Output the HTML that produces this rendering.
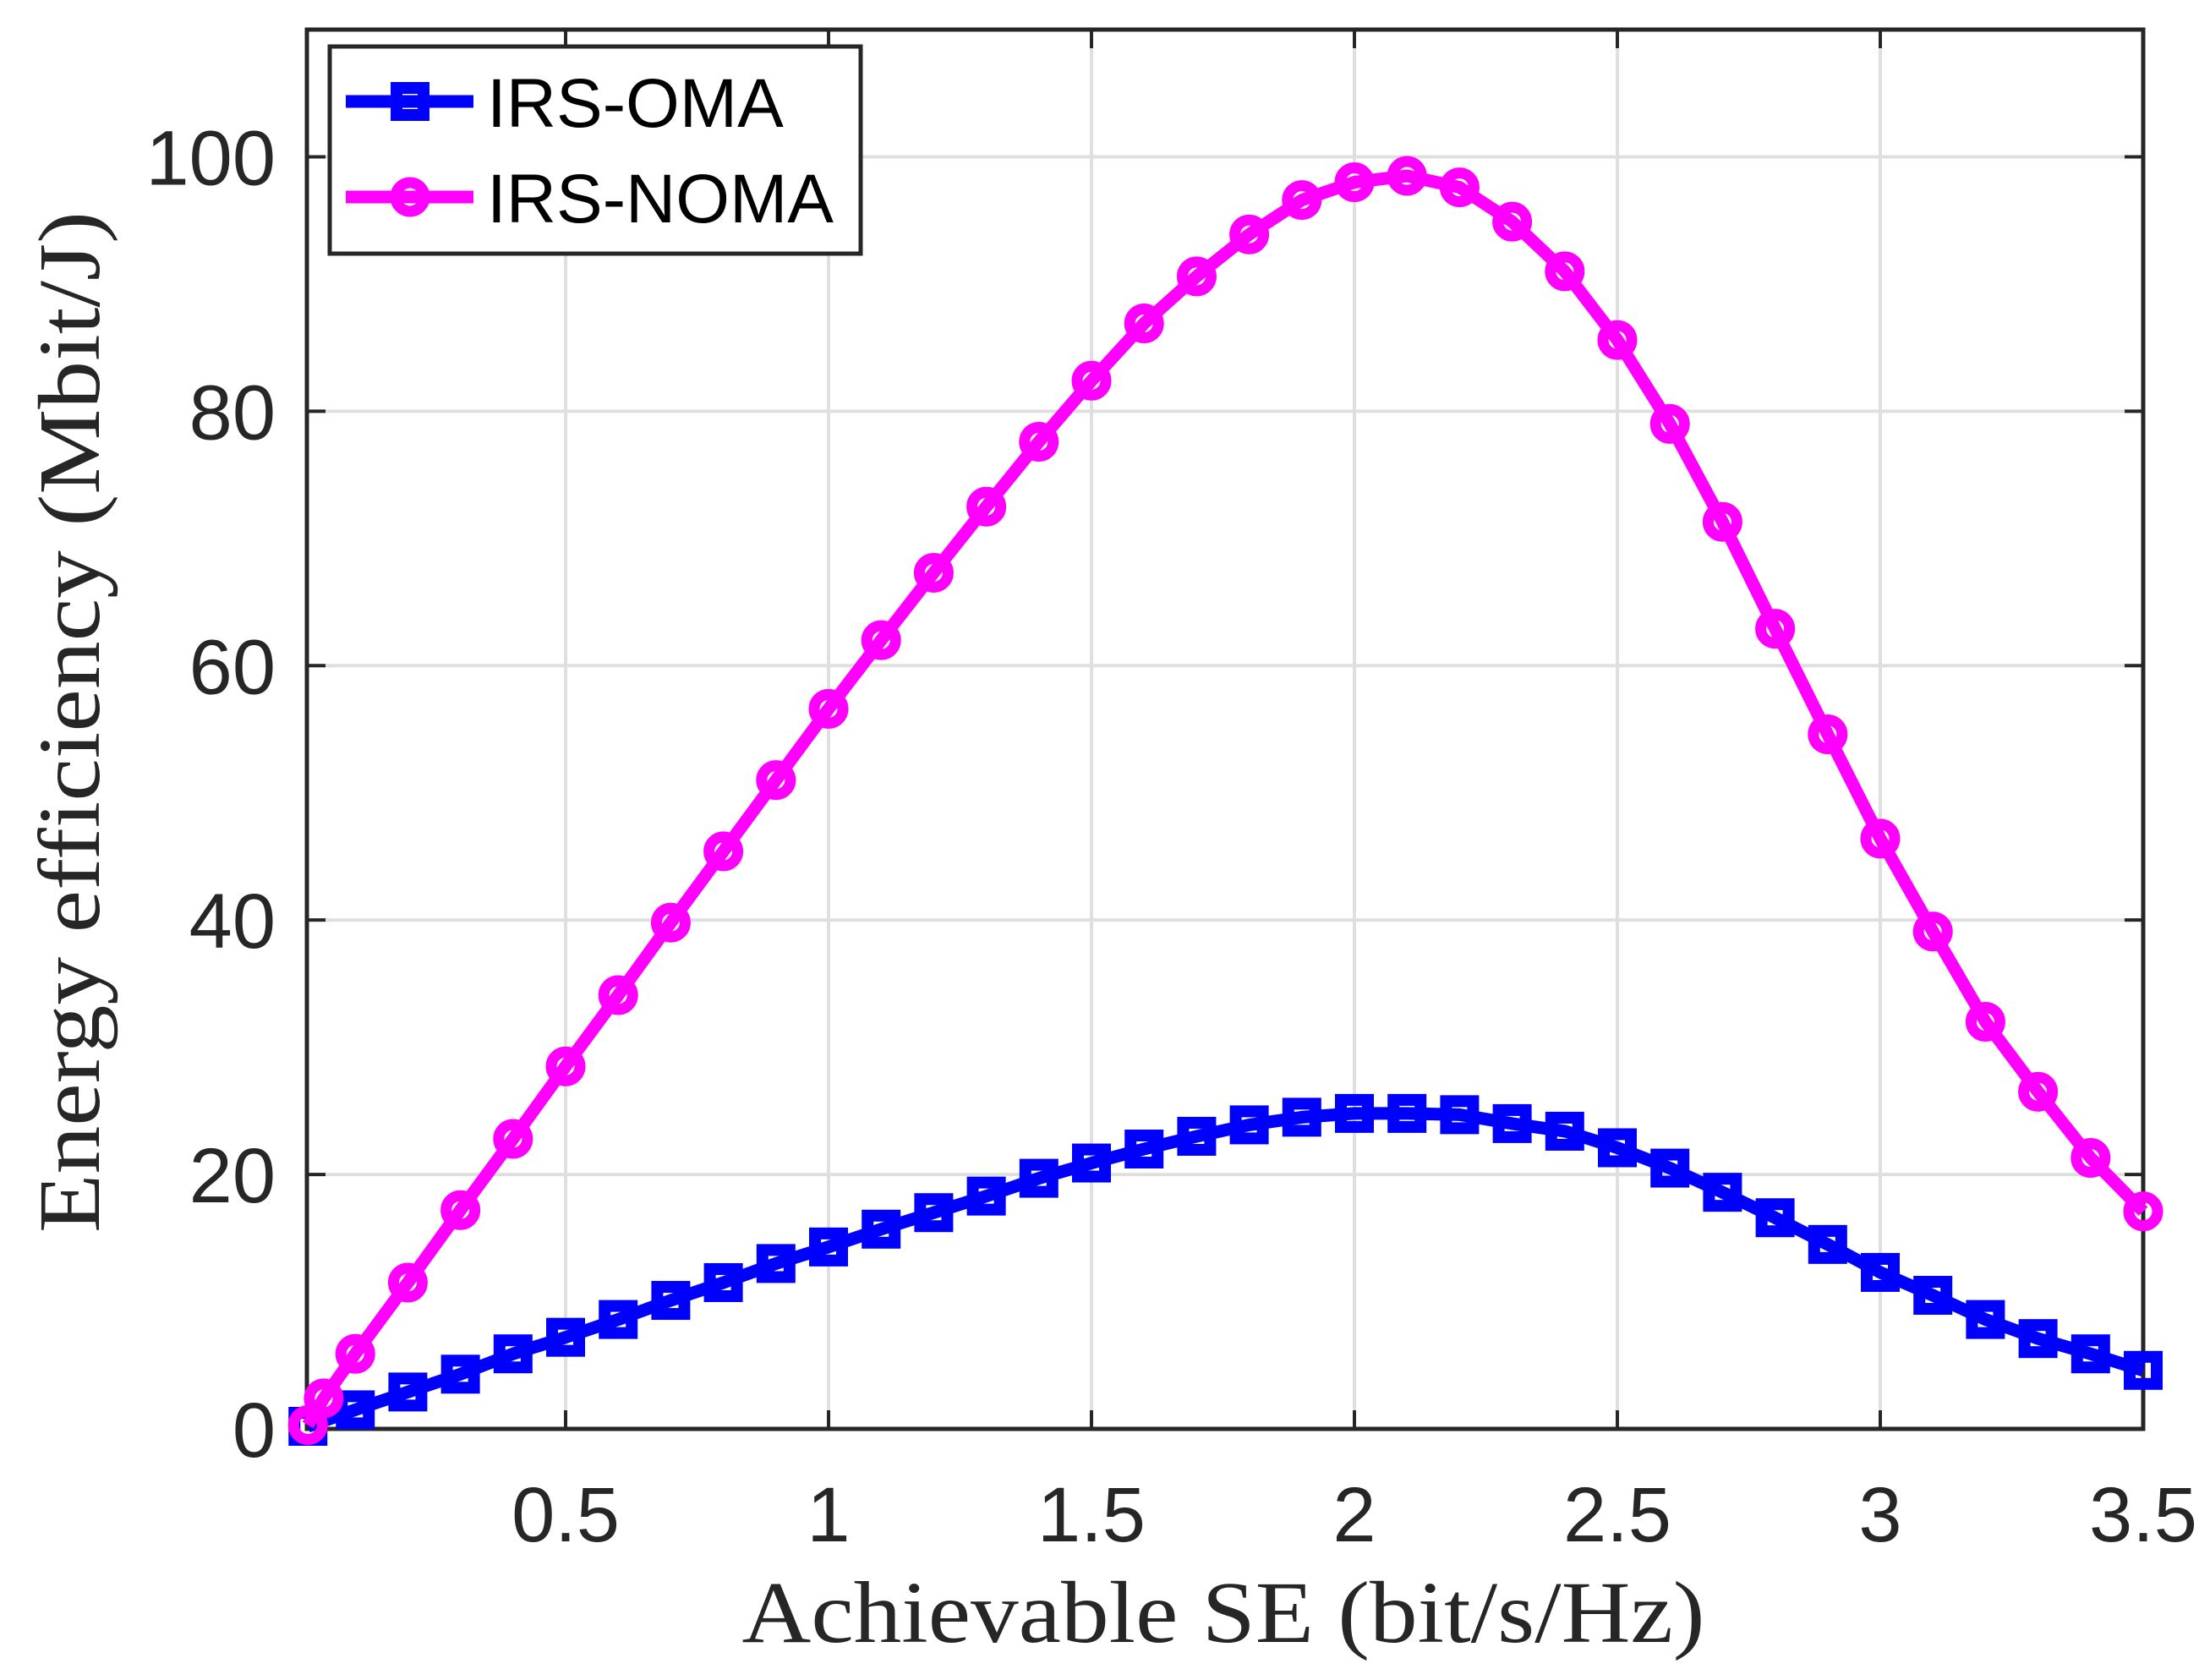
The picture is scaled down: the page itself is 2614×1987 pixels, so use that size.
<!DOCTYPE html>
<html><head><meta charset="utf-8"><style>
html,body{margin:0;padding:0;background:#fff;}
svg{display:block;}
.tick{font-family:"Liberation Sans",Arial,sans-serif;font-size:92px;fill:#262626;}
.leg{font-family:"Liberation Sans",Arial,sans-serif;font-size:82px;fill:#000;}
.ttl{font-family:"Liberation Serif","DejaVu Serif",serif;font-size:104px;fill:#262626;}
</style></head><body>
<svg id="chart" width="2614" height="1987" viewBox="0 0 2614 1987" xmlns="http://www.w3.org/2000/svg">
<rect x="0" y="0" width="2614" height="1987" fill="#fff"/>
<g id="grid"></g>
<g id="axes"></g>
<g id="series"></g>
<text class="ttl" x="1447" y="1942" text-anchor="middle" textLength="1139" lengthAdjust="spacingAndGlyphs">Achievable SE (bit/s/Hz)</text>
<text class="ttl" transform="translate(117,854) rotate(-90)" text-anchor="middle" textLength="1208" lengthAdjust="spacingAndGlyphs">Energy efficiency (Mbit/J)</text>
<g id="legend">
<rect x="390" y="55" width="628" height="245" fill="#fff" stroke="#262626" stroke-width="5"/>
<g>
<line x1="409" y1="120" x2="560" y2="120" stroke="#0000ff" stroke-width="15"/>
<rect x="469" y="104" width="32" height="32" fill="none" stroke="#0000ff" stroke-width="14"/>
<text class="leg" x="576" y="150">IRS-OMA</text>
</g>
<g>
<line x1="409" y1="233" x2="560" y2="233" stroke="#ff00ff" stroke-width="15"/>
<circle cx="485" cy="233" r="17" fill="none" stroke="#ff00ff" stroke-width="13"/>
<text class="leg" x="576" y="263">IRS-NOMA</text>
</g>
</g>
</svg>
<script>
const xTicks=[0.5,1,1.5,2,2.5,3,3.5];
const xTickLabels=["0.5","1","1.5","2","2.5","3","3.5"];
const yTicks=[0,20,40,60,80,100];
const yTickLabels=["0","20","40","60","80","100"];
const omaX=[0.01,0.1,0.2,0.3,0.4,0.5,0.6,0.7,0.8,0.9,1.0,1.1,1.2,1.3,1.4,1.5,1.6,1.7,1.8,1.9,2.0,2.1,2.2,2.3,2.4,2.5,2.6,2.7,2.8,2.9,3.0,3.1,3.2,3.3,3.4,3.5];
const omaY=[0.2,1.5,2.9,4.3,5.9,7.2,8.6,10.1,11.5,13,14.3,15.7,17,18.3,19.7,20.9,22,23,23.9,24.5,24.8,24.8,24.7,24,23.4,22.1,20.5,18.6,16.6,14.5,12.3,10.5,8.6,7.1,5.9,4.6];
const nomaX=[0.01,0.04,0.1,0.2,0.3,0.4,0.5,0.6,0.7,0.8,0.9,1.0,1.1,1.2,1.3,1.4,1.5,1.6,1.7,1.8,1.9,2.0,2.1,2.2,2.3,2.4,2.5,2.6,2.7,2.8,2.9,3.0,3.1,3.2,3.3,3.4,3.5];
const nomaY=[0.3,2.4,5.9,11.5,17.2,22.8,28.5,34.1,39.8,45.4,51,56.6,62,67.3,72.5,77.6,82.4,86.9,90.6,93.9,96.6,98,98.5,97.6,94.9,91,85.6,79,71.3,62.9,54.6,46.4,39.1,32,26.5,21.3,17.1];

const L=363,R=2535,T=35,B=1690;
const xMin=0.008,xMax=3.5,yMin=0,yMax=110;
function sx(v){return L+(v-xMin)/(xMax-xMin)*(R-L);}
function sy(v){return B-(v-yMin)/(yMax-yMin)*(B-T);}
const NS="http://www.w3.org/2000/svg";
function mk(tag,attrs,parent){const e=document.createElementNS(NS,tag);for(const k in attrs)e.setAttribute(k,attrs[k]);parent.appendChild(e);return e;}
const grid=document.getElementById('grid'),axes=document.getElementById('axes'),series=document.getElementById('series');
xTicks.forEach((t,i)=>{
  const x=sx(t);
  const g=mk('line',{x1:x,y1:T,x2:x,y2:B,stroke:'#dfdfdf','stroke-width':4},grid);
  
  
  const t1=mk('line',{x1:x,y1:B,x2:x,y2:B-22,stroke:'#262626','stroke-width':4},axes);
  
  
  const t2=mk('line',{x1:x,y1:T,x2:x,y2:T+22,stroke:'#262626','stroke-width':4},axes);
  
  
  const lb=mk('text',{x:x,y:1823,'text-anchor':'middle',class:'tick'},axes);
  lb.textContent=xTickLabels[i];
  
  
});
yTicks.forEach((t,i)=>{
  const y=sy(t);
  if(t>0){
    const g=mk('line',{x1:L,y1:y,x2:R,y2:y,stroke:'#dfdfdf','stroke-width':4},grid);
    
    
  }
  const t1=mk('line',{x1:L,y1:y,x2:L+22,y2:y,stroke:'#262626','stroke-width':4},axes);
  
  
  const t2=mk('line',{x1:R,y1:y,x2:R-22,y2:y,stroke:'#262626','stroke-width':4},axes);
  
  
  const lb=mk('text',{x:326,y:y+33,'text-anchor':'end',class:'tick'},axes);
  lb.textContent=yTickLabels[i];
  
  
});
const box=mk('rect',{x:L,y:T,width:R-L,height:B-T,fill:'none',stroke:'#262626','stroke-width':5},axes);



function drawSeries(xs,ys,color,marker,name){
  const g=mk('g',{},series);
  
  
  const pts=xs.map((x,i)=>sx(x).toFixed(1)+','+sy(ys[i]).toFixed(1)).join(' ');
  const pl=mk('polyline',{points:pts,fill:'none',stroke:color,'stroke-width':15,'stroke-linejoin':'round'},g);
  
  
  xs.forEach((x,i)=>{
    let m;
    if(marker==='square'){
      m=mk('rect',{x:sx(x)-16,y:sy(ys[i])-16,width:32,height:32,fill:'none',stroke:color,'stroke-width':14},g);
    }else{
      m=mk('circle',{cx:sx(x),cy:sy(ys[i]),r:17,fill:'none',stroke:color,'stroke-width':13},g);
    }
    
    
  });
}
drawSeries(omaX,omaY,'#0000ff','square','irs-oma-series');
drawSeries(nomaX,nomaY,'#ff00ff','circle','irs-noma-series');
</script>
</body></html>
